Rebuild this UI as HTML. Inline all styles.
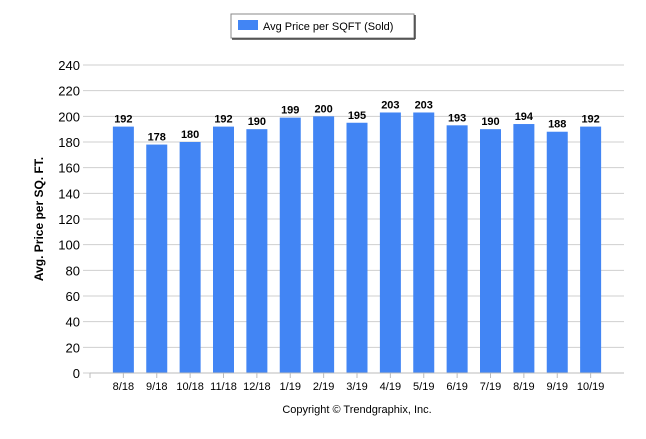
<!DOCTYPE html>
<html><head><meta charset="utf-8"><style>
body{margin:0;background:#fff;font-family:"Liberation Sans",sans-serif}
</style></head><body>
<svg width="646" height="434" xmlns="http://www.w3.org/2000/svg" font-family="Liberation Sans, sans-serif">
<g>
<rect x="231" y="14" width="183" height="24" fill="#fff" stroke="#888"/>
<line x1="232" y1="39" x2="415" y2="39" stroke="#444" stroke-width="1.5"/>
<line x1="415" y1="15" x2="415" y2="39" stroke="#444" stroke-width="1.5"/>
<rect x="238" y="20" width="20" height="10" fill="#4285f4"/>
<text x="263" y="30" font-size="11" fill="#000">Avg Price per SQFT (Sold)</text>
</g>
<g id="grid"></g><g id="bars"></g><g id="axes"></g>
<text transform="translate(43,219) rotate(-90)" text-anchor="middle" font-size="12" font-weight="bold">Avg. Price per SQ. FT.</text>
<text x="357" y="413" text-anchor="middle" font-size="11">Copyright © Trendgraphix, Inc.</text>
</svg>
<script>
const categories=["8/18","9/18","10/18","11/18","12/18","1/19","2/19","3/19","4/19","5/19","6/19","7/19","8/19","9/19","10/19"];
const values=[192,178,180,192,190,199,200,195,203,203,193,190,194,188,192];
const yTicks=[0,20,40,60,80,100,120,140,160,180,200,220,240];
const NS="http://www.w3.org/2000/svg";
const x0=90,x1=624,yTop=65,yBot=373,yMax=240;
const slot=(x1-x0)/(categories.length+1);
const xs=i=>x0+slot*(i+1);
const ys=v=>yBot-(v/yMax)*(yBot-yTop);
function mk(tag,attrs,parent,text){const e=document.createElementNS(NS,tag);for(const k in attrs)e.setAttribute(k,attrs[k]);if(text!==undefined)e.textContent=text;document.getElementById(parent).appendChild(e);return e;}
yTicks.forEach(t=>{
 const l=mk("line",{x1:83,x2:624,y1:ys(t),y2:ys(t),stroke:"#cfcfcf"},"grid");
 
 
 const tx=mk("text",{x:80,y:ys(t)+5,"text-anchor":"end","font-size":"13",fill:"#000"},"grid",t);
 
 
});
const ax=mk("line",{x1:x0,x2:x1,y1:yBot,y2:yBot,stroke:"#bbb"},"axes");


mk("line",{x1:x0,x2:x0,y1:yBot,y2:yBot+5,stroke:"#bbb"},"axes");
categories.forEach((c,i)=>{
 const cx=xs(i),v=values[i];
 const b=mk("rect",{x:cx-10.5,y:ys(v),width:21,height:yBot-ys(v),fill:"#4285f4"},"bars");
 
 
 const vl=mk("text",{x:cx,y:ys(v)-4,"text-anchor":"middle","font-size":"11","font-weight":"bold"},"bars",v);
 
 
 mk("line",{x1:cx,x2:cx,y1:yBot,y2:yBot+5,stroke:"#bbb"},"axes");
 const xl=mk("text",{x:cx,y:yBot+17,"text-anchor":"middle","font-size":"11"},"axes",c);
 
 
});
</script>
</body></html>
